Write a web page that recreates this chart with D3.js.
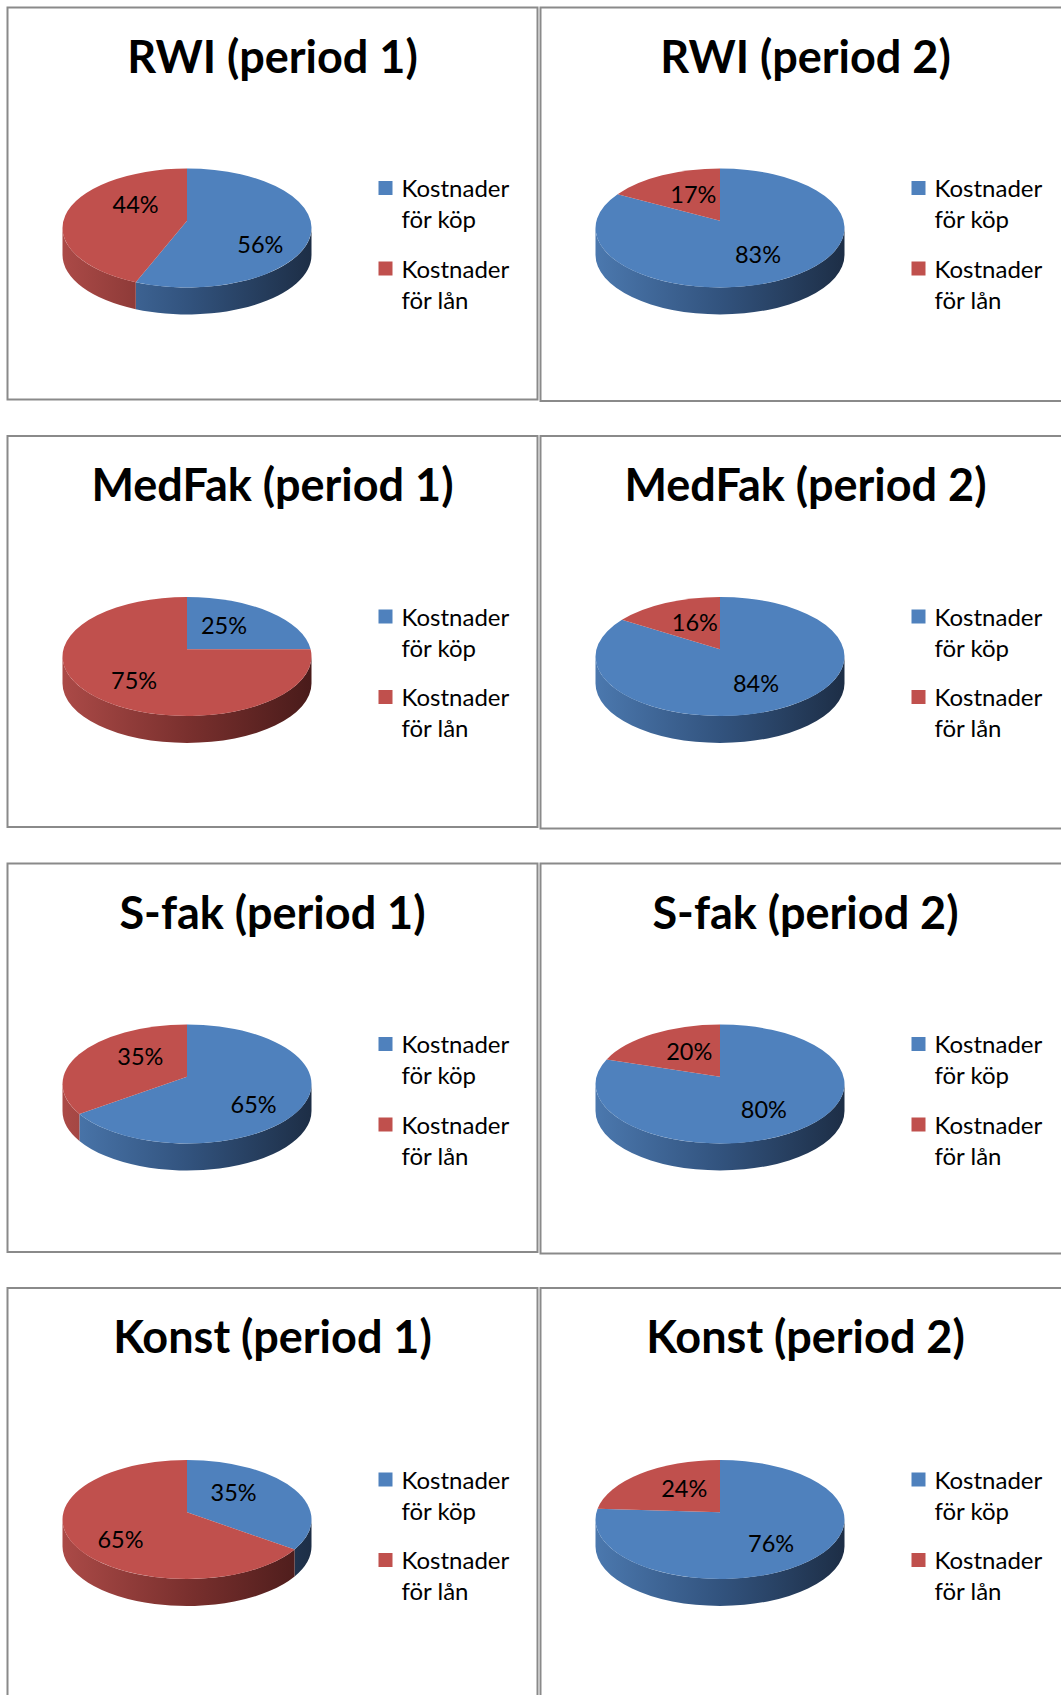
<!DOCTYPE html>
<html>
<head>
<meta charset="utf-8">
<script src="https://cdn.jsdelivr.net/npm/d3@7.9.0/dist/d3.min.js"></script>
<style>
  body { margin: 0; background: #fff; }
  svg { display: block; }
  text { font-family: Lato, "Noto Sans", sans-serif; fill: #000; }
</style>
</head>
<body>
<svg id="chart" width="1061" height="1695"></svg>
<script>
// Chart titles, in reading order (left to right, top to bottom)
const titles = [
  "RWI (period 1)", "RWI (period 2)",
  "MedFak (period 1)", "MedFak (period 2)",
  "S-fak (period 1)", "S-fak (period 2)",
  "Konst (period 1)", "Konst (period 2)"
];

// Series names (legend) and their values in percent
const seriesNames = ["Kostnader för köp", "Kostnader för lån"];
const kop = [56, 83, 25, 84, 65, 80, 35, 76];
const lan = [44, 17, 75, 16, 35, 20, 65, 24];

const topColors = ["#4F81BD", "#C0504D"];
const sideStops = [
  ["#4b78ae", "#32537e", "#1d2e46"],
  ["#ab4a47", "#7a302e", "#491b1a"]
];

// Panel frame layout
const colX = [7.5, 540.5];
const rowY = [7.5, 436, 863.5, 1288];
const rowBottom = [399.5, 827, 1252, 1720];
const rowShift = [0, 0, 0, 11]; // last chart's plot area sits a bit lower
const panelW = 530;

const rx = 124.5, ry = 59.5, depth = 27;
const persp = 0.12; // perspective: circle centre projects slightly above ellipse centre

const svg = d3.select("#chart");
const defs = svg.append("defs");

const pie = d3.pie().sort(null).value(d => d.value);

// map a pie angle (0 = 12 o'clock, clockwise) to the angle on the projected ellipse
function project(a) {
  if (a >= 2 * Math.PI - 1e-9) return 2 * Math.PI;
  const u = Math.sin(a), v = Math.cos(a);
  const den = 1 + persp * v;
  const u2 = u * Math.sqrt(1 - persp * persp) / den;
  const v2 = (v + persp) / den;
  let p = Math.atan2(u2, v2);
  if (p < -1e-9) p += 2 * Math.PI;
  return Math.max(0, p);
}
const pt = (cx, cy, a) => [cx + rx * Math.sin(a), cy - ry * Math.cos(a)];

titles.forEach((title, i) => {
  const col = i % 2, row = Math.floor(i / 2);
  const px = colX[col], py = rowY[row];
  const pb = rowBottom[row] + (col === 1 ? 1.5 : 0);
  const g = svg.append("g");

  // frame
  g.append("rect")
    .attr("x", px).attr("y", py)
    .attr("width", panelW).attr("height", pb - py)
    .attr("fill", "#fff")
    .attr("stroke", "#8a8a8a")
    .attr("stroke-width", 2);

  // title
  g.append("text")
    .attr("x", px + panelW / 2)
    .attr("y", py + 65)
    .attr("text-anchor", "middle")
    .style("font-weight", "bold")
    .style("font-size", "45px")
    .text(title);

  const cx = px + 179.5, cy = py + 220.5 + rowShift[row];
  const data = [
    { name: seriesNames[0], value: kop[i], k: 0 },
    { name: seriesNames[1], value: lan[i], k: 1 }
  ];
  const slices = pie(data).map(s => Object.assign(s, {
    p0: project(s.startAngle),
    p1: project(s.endAngle)
  }));

  // side gradients per pie
  sideStops.forEach((stops, k) => {
    const lg = defs.append("linearGradient")
      .attr("id", `side-${i}-${k}`)
      .attr("gradientUnits", "userSpaceOnUse")
      .attr("x1", cx - rx).attr("x2", cx + rx)
      .attr("y1", 0).attr("y2", 0);
    stops.forEach((c, j) => lg.append("stop")
      .attr("offset", j / (stops.length - 1)).attr("stop-color", c));
  });

  // visible outer wall: front half of the ellipse
  g.selectAll("path.side")
    .data(slices.filter(s => Math.min(s.p1, 1.5 * Math.PI) > Math.max(s.p0, 0.5 * Math.PI)))
    .join("path")
    .attr("class", "side")
    .attr("d", s => {
      const a0 = Math.max(s.p0, Math.PI / 2);
      const a1 = Math.min(s.p1, 3 * Math.PI / 2);
      const q0 = pt(cx, cy, a0), q1 = pt(cx, cy, a1);
      return `M${q0[0]},${q0[1]} A${rx},${ry} 0 0 1 ${q1[0]},${q1[1]} ` +
        `L${q1[0]},${q1[1] + depth} A${rx},${ry} 0 0 0 ${q0[0]},${q0[1] + depth} Z`;
    })
    .attr("fill", s => `url(#side-${i}-${s.data.k})`);

  // top face
  const hub = [cx, cy - persp * ry];
  g.selectAll("path.top")
    .data(slices)
    .join("path")
    .attr("class", "top")
    .attr("d", s => {
      const q0 = pt(cx, cy, s.p0), q1 = pt(cx, cy, s.p1);
      const large = (s.p1 - s.p0) > Math.PI ? 1 : 0;
      return `M${hub[0]},${hub[1]} L${q0[0]},${q0[1]} ` +
        `A${rx},${ry} 0 ${large} 1 ${q1[0]},${q1[1]} Z`;
    })
    .attr("fill", s => topColors[s.data.k]);

  // data labels
  g.selectAll("text.lbl")
    .data(slices)
    .join("text")
    .attr("class", "lbl")
    .attr("x", d => {
      const a = (d.startAngle + d.endAngle) / 2;
      const f = Math.cos(a) < 0 ? 0.6 : 0.42;
      return cx + f * rx * Math.sin(a);
    })
    .attr("y", d => {
      const a = (d.startAngle + d.endAngle) / 2;
      const c = Math.cos(a);
      return cy - 3.5 - Math.sign(c) * (17 + 15 * Math.abs(c));
    })
    .attr("dy", "0.36em")
    .attr("text-anchor", "middle")
    .style("font-size", "23.5px")
    .text(d => d.data.value + "%");

  // legend
  const lx = px + 371, ly = py + 173.5 + rowShift[row];
  const item = g.selectAll("g.leg")
    .data(seriesNames)
    .join("g")
    .attr("class", "leg")
    .attr("transform", (d, k) => `translate(${lx},${ly + k * 80.5})`);
  item.append("rect")
    .attr("width", 14).attr("height", 14)
    .attr("fill", (d, k) => topColors[k]);
  const t = item.append("text")
    .style("font-size", "24px");
  t.append("tspan")
    .attr("x", 23).attr("y", 16)
    .text(d => d.split(" ")[0]);
  t.append("tspan")
    .attr("x", 23).attr("y", 47)
    .text(d => d.split(" ").slice(1).join(" "));
});
</script>
</body>
</html>
